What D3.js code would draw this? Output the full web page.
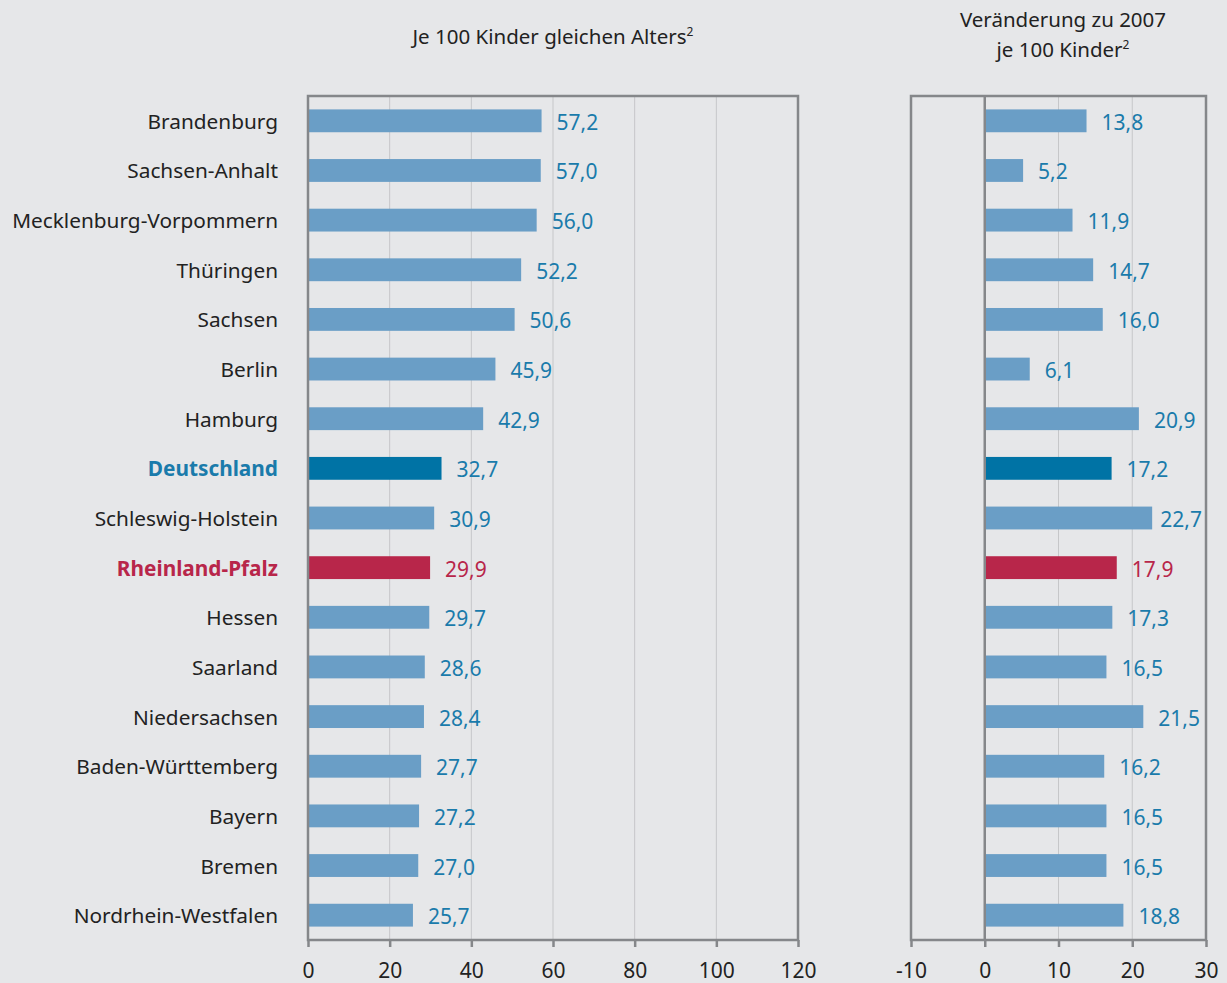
<!DOCTYPE html>
<html>
<head>
<meta charset="utf-8">
<script src="https://cdn.jsdelivr.net/npm/d3@7"></script>
<style>
  body { margin: 0; background: #e6e7e9; }
  svg { display: block; font-family: "Noto Sans", "Open Sans", sans-serif; }
</style>
</head>
<body>
<svg id="chart" width="1227" height="983"></svg>
<script>
var laender = ["Brandenburg", "Sachsen-Anhalt", "Mecklenburg-Vorpommern", "Thüringen", "Sachsen",
  "Berlin", "Hamburg", "Deutschland", "Schleswig-Holstein", "Rheinland-Pfalz", "Hessen", "Saarland",
  "Niedersachsen", "Baden-Württemberg", "Bayern", "Bremen", "Nordrhein-Westfalen"]
var quote = [57.2, 57.0, 56.0, 52.2, 50.6, 45.9, 42.9, 32.7, 30.9, 29.9, 29.7, 28.6, 28.4, 27.7, 27.2, 27.0, 25.7]
var veraenderung = [13.8, 5.2, 11.9, 14.7, 16.0, 6.1, 20.9, 17.2, 22.7, 17.9, 17.3, 16.5, 21.5, 16.2, 16.5, 16.5, 18.8]
var ticksLeft = [0, 20, 40, 60, 80, 100, 120]
var ticksRight = [-10, 0, 10, 20, 30]

var fmt = function(v){ return d3.format(".1f")(v).replace(".", ",") }

function barColor(name){
  if (name == "Deutschland") return "#0073a5"
  if (name == "Rheinland-Pfalz") return "#b8264a"
  return "#6a9ec6"
}
function textColor(name){
  if (name == "Rheinland-Pfalz") return "#b8264a"
  return "#1a7bab"
}

var svg = d3.select("#chart")
var top_ = 96, bottom = 940

var y = d3.scaleBand()
  .domain(laender)
  .range([top_, bottom])
  .paddingInner(0.54)
  .paddingOuter(0.27)

function panel(vals, domain, x0, x1, ticks, zeroLine){
  var x = d3.scaleLinear().domain(domain).range([x0, x1])
  var g = svg.append("g")

  // grid
  g.selectAll(".grid")
    .data(ticks.slice(1, -1))
    .join("line")
    .attr("x1", d => x(d)).attr("x2", d => x(d))
    .attr("y1", top_).attr("y2", bottom)
    .attr("stroke", "#c6c7c9").attr("stroke-width", 1)

  // bars
  g.selectAll(".bar")
    .data(laender)
    .join("rect")
    .attr("x", x(0))
    .attr("y", d => y(d))
    .attr("width", (d, i) => x(vals[i]) - x(0))
    .attr("height", y.bandwidth())
    .attr("fill", d => barColor(d))

  g.selectAll(".val")
    .data(laender)
    .join("text")
    .attr("x", (d, i) => x(vals[i]) + 15)
    .attr("y", d => y(d) + y.bandwidth() / 2 + 9)
    .attr("fill", d => textColor(d))
    .attr("font-size", 21)
    .text((d, i) => fmt(vals[i]))
    .each(function(){
      // keep labels inside the frame
      var len = this.getComputedTextLength()
      var xx = +this.getAttribute("x")
      if (xx + len > x1 - 4) this.setAttribute("x", x1 - 4 - len)
    })

  // frame
  g.append("rect")
    .attr("x", x0).attr("y", top_)
    .attr("width", x1 - x0).attr("height", bottom - top_)
    .attr("fill", "none").attr("stroke", "#85878a").attr("stroke-width", 2.5)

  if (zeroLine) {
    g.append("line")
      .attr("x1", x(0)).attr("x2", x(0))
      .attr("y1", top_).attr("y2", bottom)
      .attr("stroke", "#85878a").attr("stroke-width", 2.5)
  }

  var axis = g.append("g")
    .attr("transform", `translate(0,${bottom})`)
    .call(d3.axisBottom(x).tickValues(ticks).tickSize(7).tickSizeOuter(0).tickFormat(d => d))
  axis.select(".domain").remove()
  axis.selectAll("line").attr("stroke", "#85878a").attr("stroke-width", 2.5)
  axis.selectAll("text")
    .attr("font-size", 21)
    .attr("fill", "#222")
    .attr("font-family", "\"Noto Sans\", sans-serif")
    .attr("y", 16)
    .attr("dy", "1.05em")
  return x
}

panel(quote, [0, 120], 308, 798, ticksLeft, false)
panel(veraenderung, [-10, 30], 911, 1206, ticksRight, true)

// country names
svg.selectAll(".name")
  .data(laender)
  .join("text")
  .attr("x", 278)
  .attr("y", d => y(d) + y.bandwidth() / 2 + 8)
  .attr("text-anchor", "end")
  .attr("font-size", 20.8)
  .attr("font-weight", d => (d == "Deutschland" || d == "Rheinland-Pfalz") ? "bold" : "normal")
  .attr("fill", d => d == "Deutschland" ? "#1a7bab" : d == "Rheinland-Pfalz" ? "#b8264a" : "#222")
  .text(d => d)

// titles
var t1 = svg.append("text")
  .attr("x", 553).attr("y", 44)
  .attr("text-anchor", "middle")
  .attr("font-size", 20.5).attr("fill", "#222")
t1.append("tspan").text("Je 100 Kinder gleichen Alters")
t1.append("tspan").attr("font-size", 12).attr("dy", -8).text("2")

var t2 = svg.append("text")
  .attr("x", 1063).attr("y", 27)
  .attr("text-anchor", "middle")
  .attr("font-size", 20.5).attr("fill", "#222")
t2.append("tspan").text("Veränderung zu 2007")
var t3 = svg.append("text")
  .attr("x", 1063).attr("y", 57)
  .attr("text-anchor", "middle")
  .attr("font-size", 20.5).attr("fill", "#222")
t3.append("tspan").text("je 100 Kinder")
t3.append("tspan").attr("font-size", 12).attr("dy", -8).text("2")
</script>
</body>
</html>
